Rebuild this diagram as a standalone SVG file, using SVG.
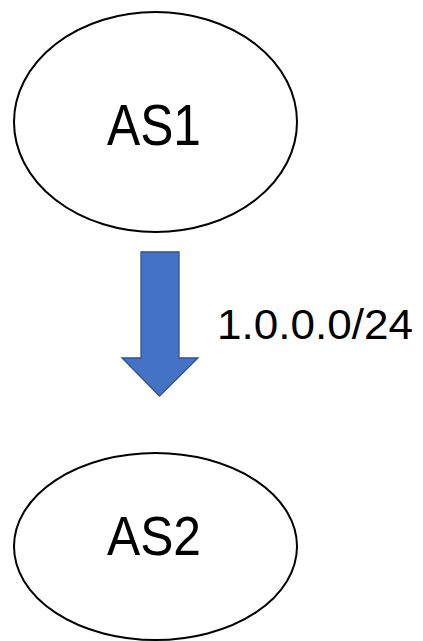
<svg xmlns="http://www.w3.org/2000/svg" width="423" height="641" viewBox="0 0 423 641">
<style>
.node{fill:#fff;stroke:#000;stroke-width:2}
.lbl{font-family:"Liberation Sans","Open Sans",sans-serif;fill:#000}
.arrow{fill:#4472C4;stroke:#2F528F;stroke-width:1.3}
</style>
<rect width="423" height="641" fill="#fff"/>
<g id="as1">
<ellipse class="node" cx="155.5" cy="122" rx="141.5" ry="110"/>
<text class="lbl" x="107" y="145" font-size="58" textLength="94" lengthAdjust="spacingAndGlyphs">AS1</text>
</g>
<g id="as2">
<ellipse class="node" cx="155.5" cy="546.5" rx="141.5" ry="93.5"/>
<text class="lbl" x="107" y="555" font-size="55" textLength="94" lengthAdjust="spacingAndGlyphs">AS2</text>
</g>
<g id="connectors">
<path class="arrow" d="M141,252 L179,252 L179,358 L198,358 L159.5,396 L122,358 L141,358 Z"/>
<text class="lbl" x="217" y="339" font-size="43" textLength="196" lengthAdjust="spacingAndGlyphs">1.0.0.0/24</text>
</g>
</svg>
